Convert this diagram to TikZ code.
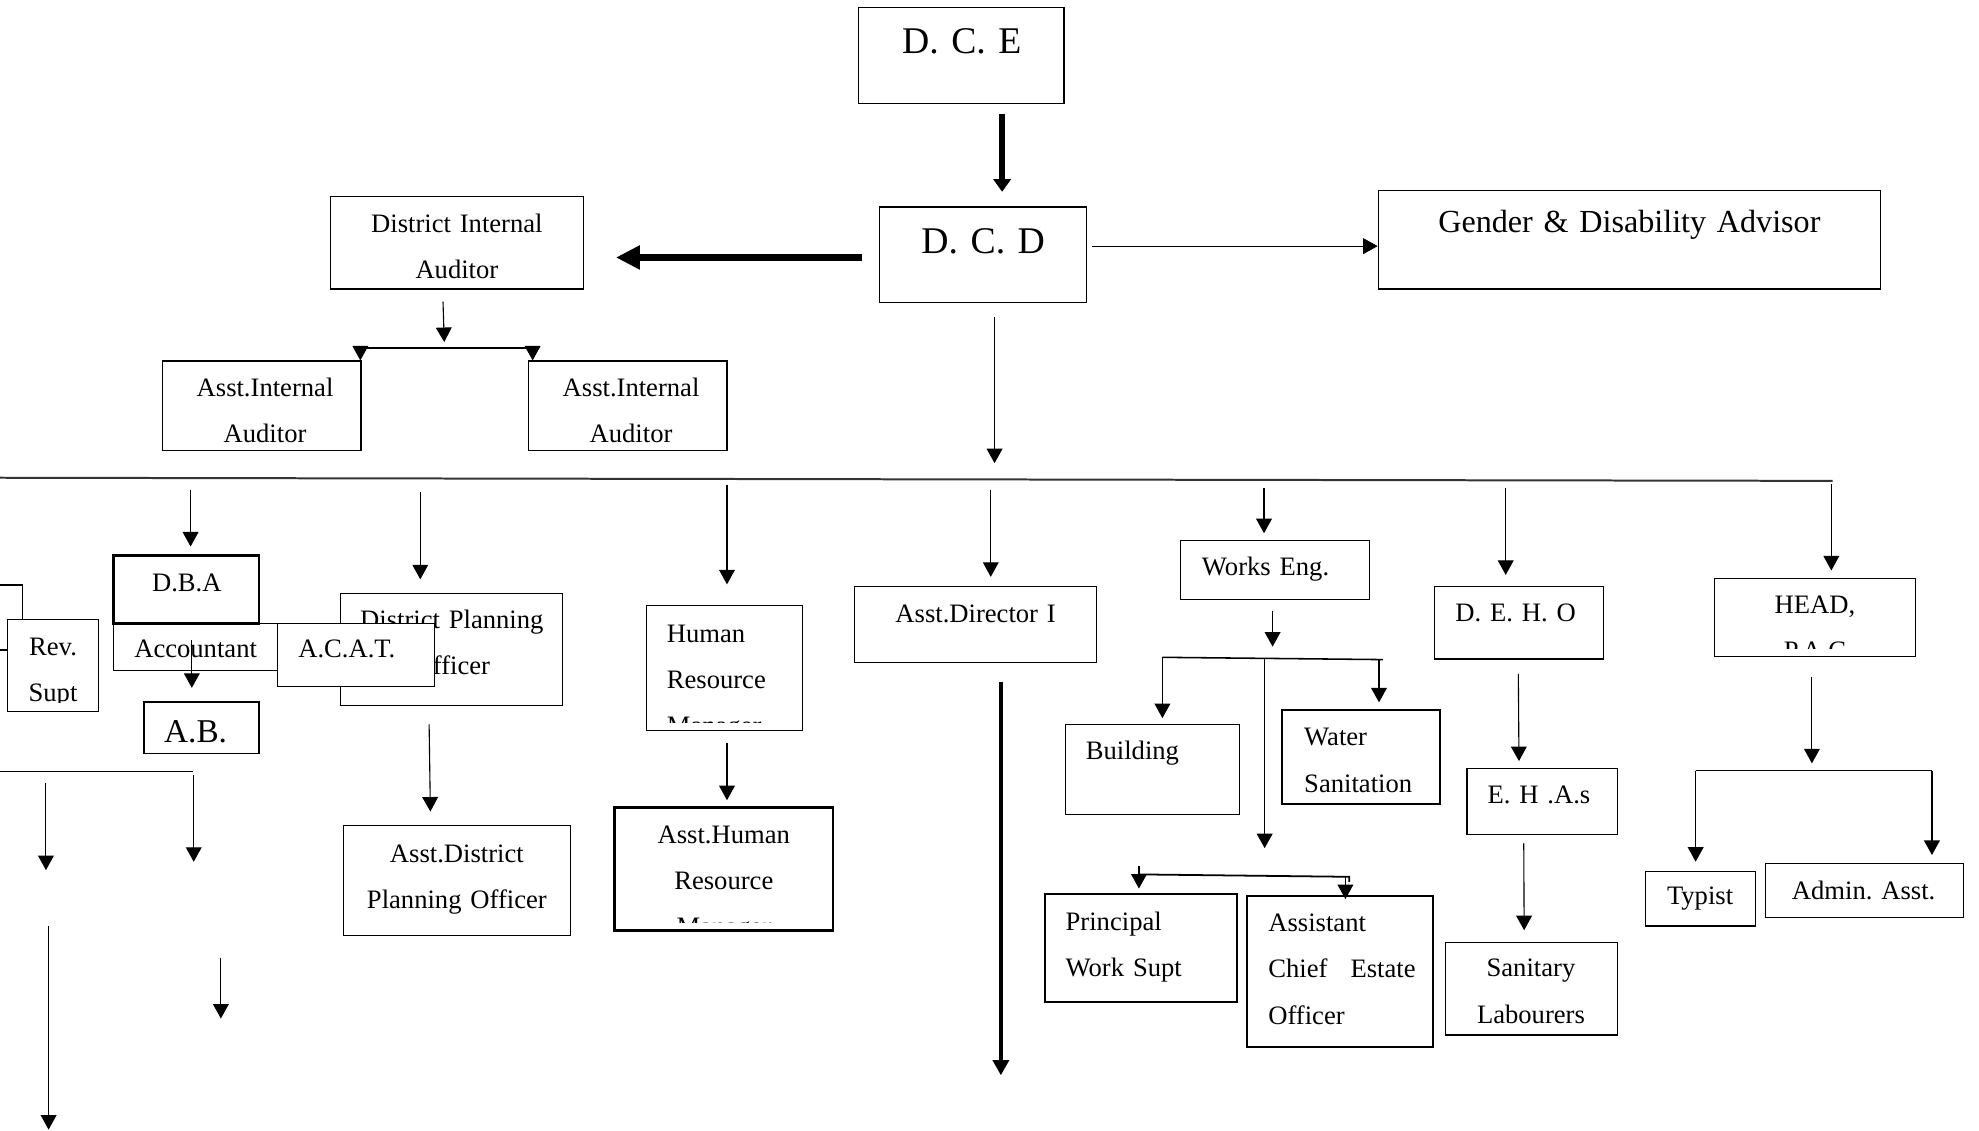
\documentclass[tikz,border=0pt]{standalone}
\usepackage{fontspec}
\setmainfont{Liberation Serif}
\usetikzlibrary{arrows.meta,calc,positioning,fit}
\frenchspacing

\begin{document}
\begin{tikzpicture}[
	x=0.02cm, y=-0.02cm,
	box/.style  = {draw, fill=white, inner sep=0pt, line width=0.5pt},
	boxb/.style = {box, line width=1.1pt},
	txt/.style  = {inner sep=0pt, text width=10cm, align=center, anchor=base, font=\fontsize{12}{20.8}\selectfont},
	txtl/.style = {txt, align=left, anchor=base west},
	big/.style  = {font=\fontsize{#1}{20}\selectfont},
	arr/.style  = {line width=0.5pt, -{Triangle[length=0.23cm,width=0.25cm]}},
	arrb/.style = {line width=2pt, -{Triangle[length=0.24cm,width=0.25cm]}}]

	\useasboundingbox (0,0) rectangle (1568,896);
	\clip (0,0) rectangle (1568,896);

	% top of the chart
	\node[box, fit={(680,6) (843,82)}] (dce) {};
	\node[txt, big=17] (dce-t) at (762,42) {D. C. E};
	\node[box, fit={(697,164) (861,240)}] (dcd) {};
	\node[txt, big=17] (dcd-t) at (779,201) {D. C. D};
	\node[box, fit={(1092,151) (1490,229)}] (gda) {};
	\node[txt, big=14.5] (gda-t) at (1291,184) {Gender \& Disability Advisor};
	\node[box, fit={(262,156) (462,229)}] (dia) {};
	\node[txt] (dia-t) at (362,184) {District Internal\\Auditor};

	\coordinate (dce-s) at (794,90);
	\coordinate (dcd-n) at (794,152);
	\draw[line width=2.6pt, -{Triangle[length=0.2cm,width=0.27cm]}] (dce-s) -- (dcd-n);
	\coordinate (dcd-w) at (683,204);
	\coordinate (dia-e) at (488,204);
	\draw[line width=3.4pt, -{Triangle[length=0.38cm,width=0.36cm]}] (dcd-w) -- (dia-e);
	\coordinate (dcd-e) at (865,195);
	\draw[arr] (dcd-e) -- (dcd-e -| gda.west);
	\coordinate (dcd-s) at (788,251);
	\coordinate (bar-n) at (788,367);
	\draw[arr] (dcd-s) -- (bar-n);

	% internal audit
	\node[box, fit={(129,286) (286,357)}] (aia1) {};
	\node[box, fit={(419,286) (576,357)}] (aia2) {};
	\foreach \n/\x in {aia1/210, aia2/500} {
		\begin{scope}
		\clip ($(\n.south west)+(0,-7)$) rectangle (\n.north east);
		\node[txt] (\n-t) at (\x,314) {Asst.Internal\\Auditor};
		\end{scope}
	}
	\coordinate (dia-s) at (351,239);
	\coordinate (dia-j) at (352,271);
	\draw[arr] (dia-s) -- (dia-j);
	\coordinate (dia-l) at (285.5,276);
	\coordinate (dia-r) at (422,276);
	\draw[line width=0.9pt] (dia-l) -- (dia-r);
	\draw[arr] (dia-l) -- (dia-l |- aia1.north);
	\draw[arr] (dia-r) -- (dia-r |- aia2.north);

	% departments bar
	\coordinate (bar-w) at (-10,378.5);
	\coordinate (bar-e) at (1452,381);
	\draw[line width=0.9pt, black!80] (bar-w) -- (bar-e);
	\foreach \n/\x/\ya/\yb in {dba/151/388/433, dpo/333/390/459, hrm/576/384/463,
		adi/785/388/457, we/1001.5/387/422.5, deho/1193/386.5/455.5, head/1451/383.5/452} {
		\coordinate (\n-a) at (\x,\ya);
		\coordinate (\n-b) at (\x,\yb);
		\draw[arr] (\n-a) -- (\n-b);
	}

	% finance
	\node[box, fit={(-40,463.5) (18,515)}] (lft) {};
	\node[box, fit={(6,491) (78,564)}] (rev) {};
	\begin{scope}
	\clip ($(rev.south west)+(0,-8)$) rectangle (rev.north east);
	\node[txt] (rev-t) at (42,519) {Rev.\\Supt};
	\end{scope}
	\node[box, fit={(90,494) (230,531)}] (acc) {};
	\node[txt] (acc-t) at (155,521) {Accountant};
	\node[boxb, fit={(90,440) (205,494)}] (dba) {};
	\node[txt] (dba-t) at (148,469) {D.B.A};
	\coordinate (acc-a) at (152,507);
	\coordinate (acc-b) at (152,545);
	\draw[arr] (acc-a) -- (acc-b);
	\node[box, line width=0.8pt, fit={(114,556) (205,597)}] (ab) {};
	\node[txt, big=15] (ab-t) at (155,588) {A.B.};

	\coordinate (ab-w) at (-10,611);
	\coordinate (ab-e) at (152.6,611);
	\draw[line width=0.6pt] (ab-w) -- (ab-e);
	\foreach \n/\x/\ya/\yb in {low1/36.4/620/689.4, low2/153.5/614/682.8,
		low3/38.5/734/895, low4/175/759/807} {
		\coordinate (\n-a) at (\x,\ya);
		\coordinate (\n-b) at (\x,\yb);
		\draw[arr] (\n-a) -- (\n-b);
	}

	% planning
	\node[box, fit={(270,470) (446,559)}] (dpo) {};
	\node[txt] (dpo-t) at (358,498) {District Planning\\Officer};
	\node[box, fit={(220,494) (344,544)}] (acat) {};
	\node[txtl] (acat-t) at (236,521) {A.C.A.T.};
	\node[box, fit={(272,654) (452,741)}] (adpo) {};
	\node[txt] (adpo-t) at (362,683) {Asst.District\\Planning Officer};
	\coordinate (dpo-s) at (340,574);
	\coordinate (adpo-n) at (341,643);
	\draw[arr] (dpo-s) -- (adpo-n);

	% human resource
	\node[box, fit={(512,480) (636,579)}] (hrm) {};
	\begin{scope}
	\clip ($(hrm.south west)+(0,-7)$) rectangle (hrm.north east);
	\node[txtl] (hrm-t) at (528,509) {Human\\Resource\\Manager};
	\end{scope}
	\node[box, line width=1.2pt, fit={(487,640) (660,737)}] (ahrm) {};
	\begin{scope}
	\clip ($(ahrm.south west)+(0,-7)$) rectangle (ahrm.north east);
	\node[txt] (ahrm-t) at (573.5,668) {Asst.Human\\Resource\\Manager};
	\end{scope}
	\coordinate (hrm-s) at (576,589);
	\coordinate (ahrm-n) at (576,634);
	\draw[arr] (hrm-s) -- (ahrm-n);

	% asst. director
	\node[box, fit={(677,465) (869,525)}] (adi) {};
	\node[txt] (adi-t) at (773,493) {Asst.Director I};
	\coordinate (adi-s) at (793,540);
	\coordinate (adi-end) at (793,852);
	\draw[arrb] (adi-s) -- (adi-end);

	% works
	\node[box, fit={(935.6,428) (1085,475)}] (we) {};
	\node[txtl] (we-t) at (952,456) {Works Eng.};
	\node[box, fit={(844,573.7) (982,645)}] (bld) {};
	\node[txtl] (bld-t) at (860,601.7) {Building};
	\node[box, line width=0.9pt, fit={(1016,562.6) (1140.6,637.3)}] (wsn) {};
	\node[txtl] (wsn-t) at (1033,591) {Water\\Sanitation};
	\node[box, line width=0.8pt, fit={(827.7,708.4) (980.3,793.7)}] (pws) {};
	\node[txtl] (pws-t) at (844,737) {Principal\\Work Supt};
	\node[box, line width=0.8pt, fit={(988,710) (1135.6,829.4)}] (aceo) {};
	\node[txtl] (aceo-t) at (1004.6,738.3) {Assistant\\Chief\hspace{10.4pt}Estate\\Officer};

	\coordinate (we-s) at (1008.3,484);
	\coordinate (we-j) at (1008.3,512.3);
	\draw[arr] (we-s) -- (we-j);
	\coordinate (we-l) at (921,520.8);
	\coordinate (we-r) at (1095.7,522.6);
	\draw[line width=0.7pt] (we-l) -- (we-r);
	\coordinate (bld-n) at (921,569);
	\coordinate (wsn-n) at (1092.6,556.5);
	\draw[arr] (we-l) -- (bld-n);
	\draw[arr] (wsn-n |- we-r) -- (wsn-n);
	\coordinate (we-m) at (1002,521.5);
	\coordinate (pws-j) at (1002,672);
	\draw[arr, line width=0.7pt] (we-m) -- (pws-j);
	\coordinate (pws-l) at (902.4,692.8);
	\coordinate (pws-r) at (1069,694.7);
	\draw[line width=0.8pt] (pws-l) -- (pws-r) -- ++(0,4);
	\coordinate (pws-tk) at (902.4,686.2);
	\coordinate (pws-n) at (902.4,704);
	\draw[arr] (pws-tk) -- (pws-n);
	\coordinate (aceo-a) at (1066,694.5);
	\coordinate (aceo-n) at (1066,712.4);
	\draw[arr] (aceo-a) -- (aceo-n);

	% environmental health
	\node[box, fit={(1136.6,464.8) (1270.3,522.1)}] (deho) {};
	\node[txtl] (deho-t) at (1152.7,492.5) {D. E. H. O};
	\node[box, fit={(1162.3,609) (1281.3,661)}] (ehas) {};
	\node[txtl] (ehas-t) at (1178.3,636.5) {E. H .A.s};
	\node[box, fit={(1145,747) (1281.5,820)}] (slab) {};
	\node[txt] (slab-t) at (1213,774) {Sanitary\\Labourers};
	\coordinate (deho-s) at (1203,534);
	\coordinate (ehas-n) at (1203.5,603);
	\draw[arr] (deho-s) -- (ehas-n);
	\coordinate (ehas-s) at (1207.3,668.3);
	\coordinate (slab-n) at (1207.6,737);
	\draw[arr] (ehas-s) -- (slab-n);

	% head, p.a.c
	\node[box, fit={(1358.7,458.2) (1517.6,520.3)}] (head) {};
	\begin{scope}
	\clip ($(head.south west)+(0,-7)$) rectangle (head.north east);
	\node[txt] (head-t) at (1438,486) {HEAD,\\P.A.C};
	\end{scope}
	\node[box, fit={(1303.4,690.6) (1390.9,733.7)}] (typ) {};
	\node[txt] (typ-t) at (1347,717) {Typist};
	\node[box, fit={(1398.5,684) (1555.6,726.8)}] (adm) {};
	\node[txt] (adm-t) at (1476.6,712.3) {Admin. Asst.};
	\coordinate (head-s) at (1435.6,536);
	\coordinate (head-j) at (1435.6,604.8);
	\draw[arr] (head-s) -- (head-j);
	\coordinate (head-l) at (1343.5,610.6);
	\coordinate (head-r) at (1530.7,610.6);
	\draw[line width=0.6pt] (head-l) -- (head-r);
	\coordinate (typ-n) at (1343.5,682.7);
	\coordinate (adm-n) at (1530.7,677.4);
	\draw[arr] (head-l) -- (typ-n);
	\draw[arr] (head-r) -- (adm-n);

\end{tikzpicture}
\end{document}
